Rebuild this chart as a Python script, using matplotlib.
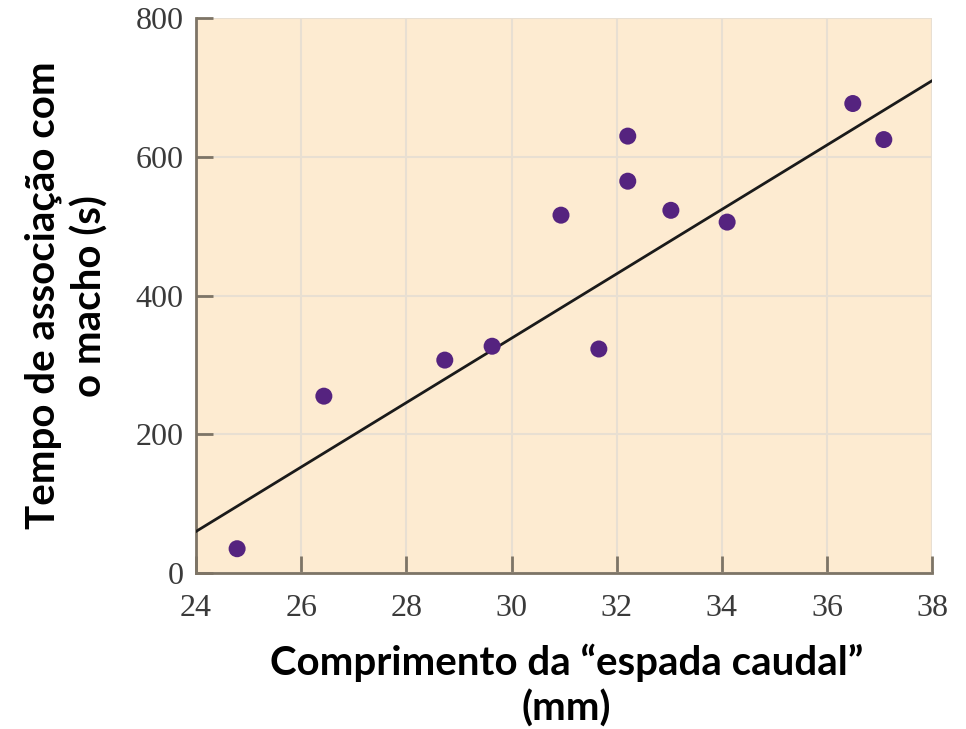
import numpy as np
import matplotlib.pyplot as plt

# data
comprimento = [24.78, 26.43, 28.73, 29.63, 30.94, 31.66, 32.21, 32.21, 33.03, 34.1, 36.49, 37.08]
tempo = [35, 255, 307, 327, 516, 323, 630, 565, 523, 506, 677, 625]
# fitted line (ends)
reta_x = [24, 38]
reta_y = [60, 710]

xticks = [24, 26, 28, 30, 32, 34, 36, 38]
yticks = [0, 200, 400, 600, 800]

fig = plt.figure(figsize=(9.66, 7.29), dpi=100)
ax = fig.add_axes([0.203, 0.214, 0.762, 0.761])
ax.set_facecolor('#fdebd1')

ax.plot(reta_x, reta_y, color='#1a1a1a', lw=2, zorder=3)
ax.scatter(comprimento, tempo, s=150, color='#55237f', zorder=4, edgecolors='none')

ax.set_xlim(24, 38)
ax.set_ylim(0, 800)
ax.set_xticks(xticks)
ax.set_yticks(yticks)
ax.grid(True, color='#e8dfd2', lw=1.5, zorder=0)
ax.set_axisbelow(True)

for s in ['top', 'right']:
    ax.spines[s].set_visible(False)
for s in ['left', 'bottom']:
    ax.spines[s].set_color('#7d7466')
    ax.spines[s].set_linewidth(2)

ax.tick_params(direction='in', length=12, width=2, color='#7d7466',
               labelsize=23, labelcolor='#3a3a3a')
ax.tick_params(axis='x', pad=15)
ax.tick_params(axis='y', pad=9)
for lab in ax.get_xticklabels() + ax.get_yticklabels():
    lab.set_family('Liberation Serif')

ax.set_xlabel('Comprimento da “espada caudal”\n(mm)', fontsize=29, fontweight='bold',
              family='Lato', linespacing=1.25)
ax.set_ylabel('Tempo de associação com\no macho (s)', fontsize=29, fontweight='bold',
              family='Lato', linespacing=1.3)
ax.xaxis.label.set_va('center')
ax.yaxis.label.set_va('center')
ax.xaxis.set_label_coords(0.503, -0.203)
ax.yaxis.set_label_coords(-0.176, 0.5)

fig.savefig('out.png', dpi=100)
